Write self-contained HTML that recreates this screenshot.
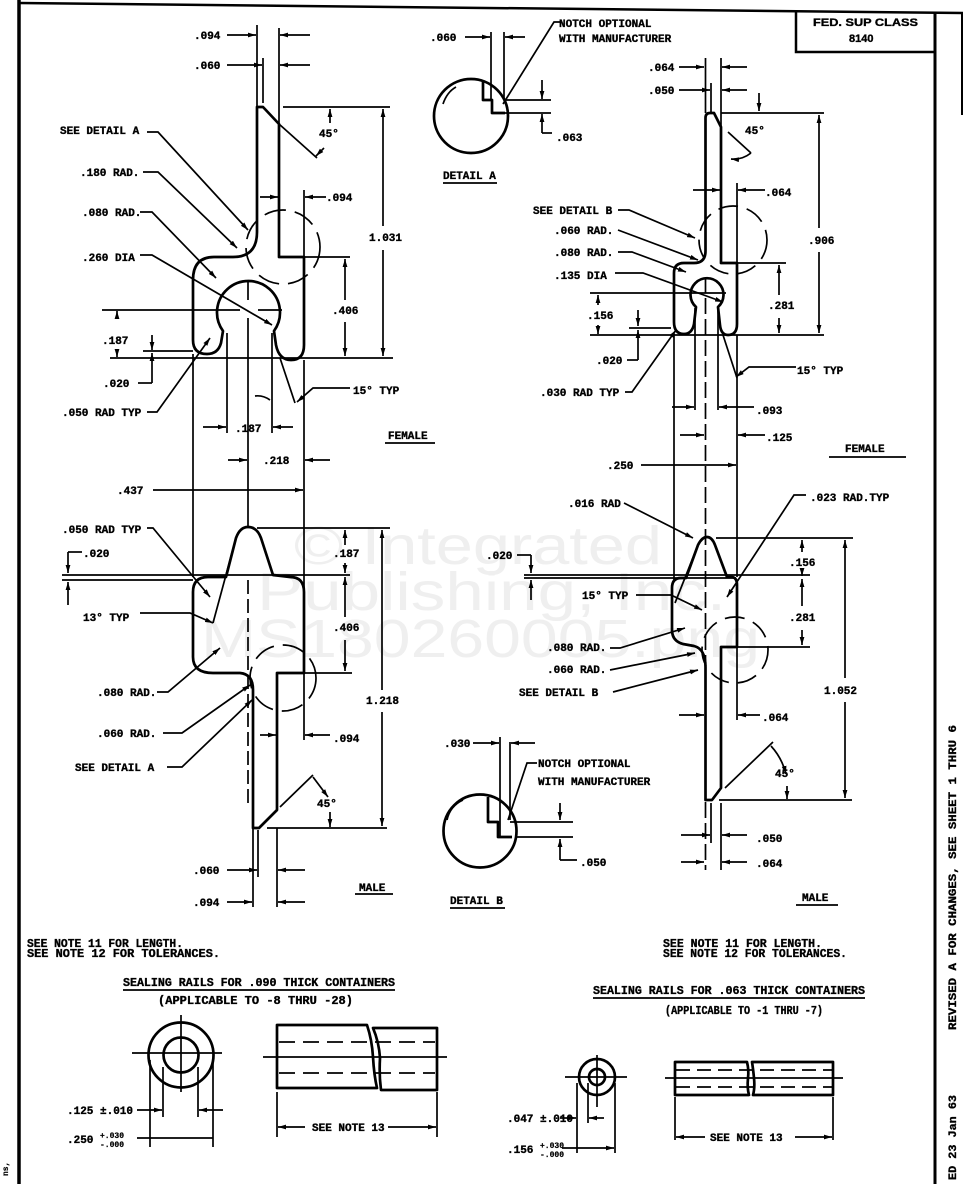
<!DOCTYPE html>
<html><head><meta charset="utf-8">
<style>
html,body{margin:0;padding:0;background:#fff;}
svg{display:block;}
text{font-family:"Liberation Mono",monospace;font-weight:bold;font-size:11px;fill:#000;stroke:#000;stroke-width:0.35;}
.wm{font-family:"Liberation Sans",sans-serif;font-weight:normal;font-size:54px;fill:#efefef;stroke:none;}
.sm{font-size:8px;stroke-width:0.2;}
.bt{font-size:11.5px;}
</style></head><body>
<svg width="966" height="1184" viewBox="0 0 966 1184" xmlns="http://www.w3.org/2000/svg">
<defs>
<marker id="a" viewBox="0 0 10 6" refX="10" refY="3" markerWidth="8" markerHeight="5" markerUnits="userSpaceOnUse" orient="auto"><path d="M0,0 L10,3 L0,6 Z" fill="#000"/></marker>
</defs>
<rect width="966" height="1184" fill="#fff"/>

<!-- watermark -->
<text class="wm" x="294" y="564" textLength="368" lengthAdjust="spacingAndGlyphs">© Integrated</text>
<text class="wm" x="257" y="610" textLength="469" lengthAdjust="spacingAndGlyphs">Publishing, Inc.</text>
<text class="wm" x="201" y="657" textLength="559" lengthAdjust="spacingAndGlyphs">MS180260005.png</text>

<!-- frame -->
<g stroke="#000" fill="none">
<path d="M19,0 V1184" stroke-width="3.5"/>
<path d="M19,3 L963,13" stroke-width="2.5"/>
<path d="M935,12 V1184" stroke-width="3"/>
<path d="M962,13 V115" stroke-width="2"/>
<path d="M796,12 V52 H935" stroke-width="2.5"/>
</g>
<text x="813" y="26" style="font-family:'Liberation Sans',sans-serif;font-size:11px" textLength="105" lengthAdjust="spacingAndGlyphs">FED. SUP CLASS</text>
<text x="849" y="42" style="font-family:'Liberation Sans',sans-serif;font-size:11px">8140</text>

<!-- ============ PART OUTLINES ============ -->
<g stroke="#000" fill="none" stroke-width="2.7" stroke-linejoin="round">
<!-- left female -->
<path d="M193,340 L193,280 Q193,257 214,257 L233,257 Q257,257 257,232 L257,107 L263,107 L279,124 L279,257 L304,257 L304,345 Q304,360 291,360 Q279,360 276,345 L274,331 A31.5,31.5 0 1 0 223,331 L221,343 Q218,354 207,354 Q193,354 193,340 Z"/>
<!-- left male -->
<path d="M193,657 L193,592 Q193,577 208,577 L226,577 L236,538 Q240,527 248,527 Q257,527 261,538 L273,575 L290,577 Q304,577 304,592 L304,673 L277,673 L277,810 L259,828 L253,828 L253,690 Q253,674 240,673 L213,673 Q193,673 193,657 Z"/>
<!-- right female -->
<path d="M674,322 L674,273 Q674,263 684,263 L694,263 Q705.5,263 705.5,251 L705.5,118 Q705.5,113 710,113 L714,113 L721,127 L721,263 L737,263 L737,324 Q737,335 728,335 Q721,335 720,325 L718,307 A16.5,16.5 0 1 0 696,307 L694,324 Q692,334 684,334 Q674,334 674,322 Z"/>
<!-- right male -->
<path d="M672,630 L672,588 Q672,578 681,578 L686,578 L698,545 Q702,537 707,537 Q712,537 715,545 L727,577 L731,577 Q737,577 737,585 L737,647 L721,647 L721,788 L712,800 L705.5,800 L705.5,667 Q705.5,649 694,646 L683,644 Q672,641 672,630 Z"/>
<!-- detail circles -->
<circle cx="471" cy="116" r="37"/>
<circle cx="480" cy="831" r="36.5"/>
<path d="M483,80 V100 H492 V113 H505"/>
<path d="M488,797 V822 H498 V837 H512"/>
<!-- sealing rails -->
<circle cx="181" cy="1055" r="32.5"/>
<circle cx="181" cy="1055" r="17.5"/>
<path d="M277,1025 H367 Q372,1040 373,1057 Q374,1075 377,1088 H277 Z"/>
<path d="M373,1028 Q379,1042 380,1058 Q379,1075 381,1090 H437 V1028 Z"/>
<circle cx="597" cy="1077" r="18"/>
<circle cx="597" cy="1077" r="8"/>
<path d="M675,1062 H747 Q749,1070 748,1078 Q747,1088 749,1095 H675 Z"/>
<path d="M752,1062 H833 V1095 H753 Q755,1088 754,1078 Q753,1068 752,1062 Z"/>
</g>

<!-- ============ DIMENSION / LEADER LINES ============ -->
<g stroke="#000" fill="none" stroke-width="1.7">
<!-- LEFT FEMALE -->
<path d="M257,25 V107 M279,28 V124 M263,58 V103"/>
<path d="M227,35 H256" marker-end="url(#a)"/><path d="M310,35 H280" marker-end="url(#a)"/>
<path d="M227,65 H262" marker-end="url(#a)"/><path d="M310,65 H280" marker-end="url(#a)"/>
<path d="M283,107 H390"/>
<path d="M279,124 L317,158"/>
<path d="M330,123 V109" marker-end="url(#a)"/><path d="M324,148 L316,156" marker-end="url(#a)"/>
<path d="M383,226 V109" marker-end="url(#a)"/><path d="M383,250 V356" marker-end="url(#a)"/>
<path d="M304,190 V257"/>
<path d="M260,197 H278" marker-end="url(#a)"/><path d="M326,197 H305" marker-end="url(#a)"/>
<path d="M304,257 H350"/>
<path d="M345,300 V259" marker-end="url(#a)"/><path d="M345,322 V356" marker-end="url(#a)"/>
<path d="M110,358 H393"/>
<path d="M102,310 H240 M258,310 H282"/>
<path d="M248,280 V300"/>
<path d="M117,318 V311" marker-end="url(#a)"/><path d="M117,349 V357" marker-end="url(#a)"/>
<path d="M143,351 H193"/>
<path d="M152,335 V350" marker-end="url(#a)"/><path d="M152,383 V353" marker-end="url(#a)"/><path d="M138,383 H152"/>
<path d="M147,412 H157 L210,338" marker-end="url(#a)"/>
<path d="M350,388 H313 L297,402" marker-end="url(#a)"/>
<path d="M280,358 L295,403"/>
<path d="M255,396 Q263,395 270,400"/>
<path d="M227,333 V433 M272,333 V433"/>
<path d="M203,427 H226" marker-end="url(#a)"/><path d="M293,427 H273" marker-end="url(#a)"/>
<path d="M248,318 V527"/>
<path d="M228,460 H247" marker-end="url(#a)"/><path d="M330,460 H305" marker-end="url(#a)"/>
<path d="M153,490 H303" marker-end="url(#a)"/>
<path d="M193,354 V577 M304,360 V592"/>
<path d="M147,132 H158 L248,230" marker-end="url(#a)"/>
<path d="M143,172 H158 L237,248" marker-end="url(#a)"/>
<path d="M140,212 H152 L216,278" marker-end="url(#a)"/>
<path d="M140,255 H152 L272,325" marker-end="url(#a)"/>
<circle cx="283" cy="247" r="37" stroke-dasharray="22 9"/>
<path d="M385,443 H435"/>

<!-- LEFT MALE -->
<path d="M236,538 L213,623"/>
<path d="M248,580 V808" stroke-dasharray="14 5"/>
<circle cx="283" cy="678" r="33" stroke-dasharray="22 9"/>
<path d="M257,528 H390 M62,575 H350 M62,580 H193"/>
<path d="M68,552 H82"/>
<path d="M68,552 V573" marker-end="url(#a)"/><path d="M68,605 V582" marker-end="url(#a)"/>
<path d="M345,545 V530" marker-end="url(#a)"/><path d="M345,563 V573" marker-end="url(#a)"/>
<path d="M345,617 V577" marker-end="url(#a)"/><path d="M345,640 V671" marker-end="url(#a)"/>
<path d="M304,673 H352"/>
<path d="M382,690 V530" marker-end="url(#a)"/><path d="M382,712 V826" marker-end="url(#a)"/>
<path d="M267,828 H387"/>
<path d="M304,673 V740"/>
<path d="M260,735 H276" marker-end="url(#a)"/><path d="M330,735 H305" marker-end="url(#a)"/>
<path d="M280,807 L313,775"/>
<path d="M313,777 L328,797" marker-end="url(#a)"/><path d="M330,812 V827" marker-end="url(#a)"/>
<path d="M147,528 H153 L210,597" marker-end="url(#a)"/>
<path d="M140,613 H190 L213,623" marker-end="url(#a)"/>
<path d="M157,692 H168 L220,648" marker-end="url(#a)"/>
<path d="M163,733 H182 L250,685" marker-end="url(#a)"/>
<path d="M167,767 H182 L252,700" marker-end="url(#a)"/>
<path d="M258,830 V877 M253,828 V907 M277,828 V907"/>
<path d="M227,870 H257" marker-end="url(#a)"/><path d="M305,870 H278" marker-end="url(#a)"/>
<path d="M227,902 H252" marker-end="url(#a)"/><path d="M305,902 H278" marker-end="url(#a)"/>
<path d="M355,894 H393"/>

<!-- RIGHT FEMALE -->
<path d="M705.5,58 V113 M721,58 V127 M711,83 V113"/>
<path d="M679,67 H704" marker-end="url(#a)"/><path d="M747,67 H722" marker-end="url(#a)"/>
<path d="M679,90 H710" marker-end="url(#a)"/><path d="M747,90 H722" marker-end="url(#a)"/>
<path d="M721,113 H824"/>
<path d="M728,132 L751,153"/>
<path d="M751,153 Q742,160 731,159" marker-end="url(#a)"/>
<path d="M759,93 V111" marker-end="url(#a)"/>
<path d="M819,228 V115" marker-end="url(#a)"/><path d="M819,252 V333" marker-end="url(#a)"/>
<path d="M737,183 V263"/>
<path d="M693,190 H720" marker-end="url(#a)"/><path d="M765,190 H738" marker-end="url(#a)"/>
<circle cx="733" cy="240" r="34" stroke-dasharray="20 9"/>
<path d="M737,263 H786"/>
<path d="M779,295 V265" marker-end="url(#a)"/><path d="M779,318 V333" marker-end="url(#a)"/>
<path d="M590,335 H824"/>
<path d="M590,293 H726"/>
<path d="M598,305 V295" marker-end="url(#a)"/><path d="M598,325 V334" marker-end="url(#a)"/>
<path d="M629,328 H671"/>
<path d="M638,310 V326" marker-end="url(#a)"/><path d="M638,360 V330" marker-end="url(#a)"/><path d="M627,360 H638"/>
<path d="M625,392 H632 L676,330" marker-end="url(#a)"/>
<path d="M796,367 H749 L736,377" marker-end="url(#a)"/>
<path d="M723,335 L737,378"/>
<path d="M618,210 H629 L695,238" marker-end="url(#a)"/>
<path d="M618,230 L698,260" marker-end="url(#a)"/>
<path d="M618,252 H632 L686,272" marker-end="url(#a)"/>
<path d="M615,273 H643 L723,302" marker-end="url(#a)"/>
<path d="M674,334 V580 M737,335 V577 M695,308 V410 M718,308 V410"/>
<path d="M705.5,277 V870" stroke-dasharray="16 5"/>
<path d="M672,407 H694" marker-end="url(#a)"/><path d="M754,407 H719" marker-end="url(#a)"/>
<path d="M680,435 H704" marker-end="url(#a)"/><path d="M765,435 H738" marker-end="url(#a)"/>
<path d="M829,457 H906"/>

<!-- RIGHT MALE -->
<path d="M698,545 L675,603"/>
<path d="M641,465 H736" marker-end="url(#a)"/>
<path d="M524,575 H810 M524,578 H736"/>
<path d="M517,555 H531"/>
<path d="M531,555 V573" marker-end="url(#a)"/><path d="M531,600 V580" marker-end="url(#a)"/>
<path d="M716,538 H853"/>
<path d="M802,552 V540" marker-end="url(#a)"/><path d="M802,570 V576" marker-end="url(#a)"/>
<path d="M802,606 V579" marker-end="url(#a)"/><path d="M802,630 V645" marker-end="url(#a)"/>
<path d="M721,647 H810"/>
<path d="M845,678 V540" marker-end="url(#a)"/><path d="M845,702 V798" marker-end="url(#a)"/>
<path d="M719,800 H852"/>
<path d="M725,788 L773,742"/>
<path d="M771,746 Q782,758 786,774" marker-end="url(#a)"/><path d="M787,786 V799" marker-end="url(#a)"/>
<path d="M737,647 V720"/>
<path d="M679,715 H704" marker-end="url(#a)"/><path d="M760,715 H738" marker-end="url(#a)"/>
<circle cx="735" cy="650" r="33" stroke-dasharray="20 9"/>
<path d="M624,503 L693,538" marker-end="url(#a)"/>
<path d="M806,495 H794 L727,597" marker-end="url(#a)"/>
<path d="M636,595 H671 L702,610" marker-end="url(#a)"/>
<path d="M610,648 H620 L685,628" marker-end="url(#a)"/>
<path d="M610,670 L695,653" marker-end="url(#a)"/>
<path d="M613,692 L698,670" marker-end="url(#a)"/>
<path d="M711,803 V843 M721,803 V870"/>
<path d="M681,835 H710" marker-end="url(#a)"/><path d="M747,835 H722" marker-end="url(#a)"/>
<path d="M681,862 H704" marker-end="url(#a)"/><path d="M747,862 H722" marker-end="url(#a)"/>
<path d="M796,905 H838"/>

<!-- DETAIL A -->
<path d="M491,32 V100 M504,32 V100"/>
<path d="M465,37 H490" marker-end="url(#a)"/><path d="M525,37 H505" marker-end="url(#a)"/>
<path d="M504,100 H551 M505,113 H551"/>
<path d="M542,80 V99" marker-end="url(#a)"/><path d="M542,133 V114" marker-end="url(#a)"/><path d="M542,133 H552"/>
<path d="M443,104 Q447,92 456,87"/>
<path d="M560,22 H554 L503,104"/>
<path d="M443,183 H497"/>

<!-- DETAIL B -->
<path d="M500,737 V837 M510,742 V820"/>
<path d="M473,743 H499" marker-end="url(#a)"/><path d="M535,743 H511" marker-end="url(#a)"/>
<path d="M510,822 H573 M517,837 H573"/>
<path d="M560,803 V820" marker-end="url(#a)"/><path d="M560,860 V839" marker-end="url(#a)"/><path d="M560,860 H577"/>
<path d="M447,820 Q450,806 463,800"/>
<path d="M537,763 H527 L508,820"/>
<path d="M450,908 H505"/>

<!-- SEALING RAILS LEFT -->
<path d="M132,1053 H222 M181,1015 V1092"/>
<path d="M150,1060 V1147 M213,1060 V1147 M163,1067 V1117 M198,1067 V1117"/>
<path d="M137,1110 H162" marker-end="url(#a)"/><path d="M223,1110 H199" marker-end="url(#a)"/>
<path d="M137,1138 H213"/>
<path d="M263,1057 H447"/>
<path d="M279,1042 H435 M279,1073 H435" stroke-dasharray="16 8"/>
<path d="M277,1092 V1137 M437,1092 V1137"/>
<path d="M305,1127 H278" marker-end="url(#a)"/><path d="M388,1127 H436" marker-end="url(#a)"/>
<path d="M123,990 H395"/>

<!-- SEALING RAILS RIGHT -->
<path d="M565,1077 H627 M597,1055 V1107"/>
<path d="M577,1083 V1153 M615,1083 V1153 M588,1083 V1123"/>
<path d="M560,1118 H576" marker-end="url(#a)"/><path d="M604,1118 H589" marker-end="url(#a)"/>
<path d="M562,1148 H614" marker-end="url(#a)"/>
<path d="M665,1078 H843"/>
<path d="M676,1070 H832 M676,1087 H832" stroke-dasharray="14 7"/>
<path d="M675,1097 V1140 M833,1097 V1140"/>
<path d="M705,1137 H676" marker-end="url(#a)"/><path d="M795,1137 H832" marker-end="url(#a)"/>
<path d="M593,998 H865"/>
</g>

<!-- ============ TEXT ============ -->
<!-- left female -->
<text x="194" y="39">.094</text>
<text x="194" y="69">.060</text>
<text x="60" y="134">SEE DETAIL A</text>
<text x="80" y="176">.180 RAD.</text>
<text x="82" y="216">.080 RAD.</text>
<text x="82" y="261">.260 DIA</text>
<text x="319" y="137">45°</text>
<text x="369" y="241">1.031</text>
<text x="326" y="201">.094</text>
<text x="332" y="314">.406</text>
<text x="102" y="344">.187</text>
<text x="103" y="387">.020</text>
<text x="62" y="416">.050 RAD TYP</text>
<text x="353" y="394">15° TYP</text>
<text x="235" y="432">.187</text>
<text x="263" y="464">.218</text>
<text x="388" y="439">FEMALE</text>
<text x="117" y="494">.437</text>
<!-- left male -->
<text x="62" y="533">.050 RAD TYP</text>
<text x="83" y="557">.020</text>
<text x="83" y="621">13° TYP</text>
<text x="333" y="557">.187</text>
<text x="333" y="631">.406</text>
<text x="366" y="704">1.218</text>
<text x="97" y="696">.080 RAD.</text>
<text x="97" y="737">.060 RAD.</text>
<text x="75" y="771">SEE DETAIL A</text>
<text x="333" y="742">.094</text>
<text x="317" y="807">45°</text>
<text x="193" y="874">.060</text>
<text x="193" y="906">.094</text>
<text x="359" y="891">MALE</text>
<!-- detail A -->
<text x="430" y="41">.060</text>
<text x="559" y="27">NOTCH OPTIONAL</text>
<text x="559" y="42">WITH MANUFACTURER</text>
<text x="556" y="141">.063</text>
<text x="443" y="179">DETAIL A</text>
<!-- right female -->
<text x="648" y="71">.064</text>
<text x="648" y="94">.050</text>
<text x="745" y="134">45°</text>
<text x="808" y="244">.906</text>
<text x="765" y="196">.064</text>
<text x="533" y="214">SEE DETAIL B</text>
<text x="554" y="234">.060 RAD.</text>
<text x="554" y="256">.080 RAD.</text>
<text x="554" y="279">.135 DIA</text>
<text x="768" y="309">.281</text>
<text x="587" y="319">.156</text>
<text x="596" y="364">.020</text>
<text x="540" y="396">.030 RAD TYP</text>
<text x="797" y="374">15° TYP</text>
<text x="756" y="414">.093</text>
<text x="766" y="441">.125</text>
<text x="845" y="452">FEMALE</text>
<!-- right male -->
<text x="607" y="469">.250</text>
<text x="568" y="507">.016 RAD</text>
<text x="810" y="501">.023 RAD.TYP</text>
<text x="486" y="559">.020</text>
<text x="582" y="599">15° TYP</text>
<text x="789" y="566">.156</text>
<text x="789" y="621">.281</text>
<text x="824" y="694">1.052</text>
<text x="547" y="651">.080 RAD.</text>
<text x="547" y="673">.060 RAD.</text>
<text x="519" y="696">SEE DETAIL B</text>
<text x="762" y="721">.064</text>
<text x="775" y="777">45°</text>
<text x="756" y="842">.050</text>
<text x="756" y="867">.064</text>
<text x="802" y="901">MALE</text>
<!-- detail B -->
<text x="444" y="747">.030</text>
<text x="538" y="767">NOTCH OPTIONAL</text>
<text x="538" y="785">WITH MANUFACTURER</text>
<text x="580" y="866">.050</text>
<text x="450" y="904">DETAIL B</text>
<!-- bottom notes -->
<text class="bt" x="27" y="947" textLength="156" lengthAdjust="spacingAndGlyphs">SEE NOTE 11 FOR LENGTH.</text>
<text class="bt" x="27" y="957" textLength="193" lengthAdjust="spacingAndGlyphs">SEE NOTE 12 FOR TOLERANCES.</text>
<text class="bt" x="123" y="986" textLength="272" lengthAdjust="spacingAndGlyphs">SEALING RAILS FOR .090 THICK CONTAINERS</text>
<text class="bt" x="158" y="1004" textLength="195" lengthAdjust="spacingAndGlyphs">(APPLICABLE TO -8 THRU -28)</text>
<text x="67" y="1114">.125 ±.010</text>
<text x="67" y="1143">.250</text>
<text class="sm" x="100" y="1138">+.030</text>
<text class="sm" x="100" y="1147">-.000</text>
<text x="312" y="1131">SEE NOTE 13</text>
<text class="bt" x="663" y="947" textLength="159" lengthAdjust="spacingAndGlyphs">SEE NOTE 11 FOR LENGTH.</text>
<text class="bt" x="663" y="957" textLength="184" lengthAdjust="spacingAndGlyphs">SEE NOTE 12 FOR TOLERANCES.</text>
<text class="bt" x="593" y="994" textLength="272" lengthAdjust="spacingAndGlyphs">SEALING RAILS FOR .063 THICK CONTAINERS</text>
<text class="bt" x="665" y="1014" textLength="158" lengthAdjust="spacingAndGlyphs">(APPLICABLE TO -1 THRU -7)</text>
<text x="507" y="1122">.047 ±.010</text>
<text x="507" y="1153">.156</text>
<text class="sm" x="540" y="1148">+.030</text>
<text class="sm" x="540" y="1157">-.000</text>
<text x="710" y="1141">SEE NOTE 13</text>
<!-- margin text -->
<text transform="translate(956,1030) rotate(-90)" textLength="305" lengthAdjust="spacingAndGlyphs">REVISED  A  FOR CHANGES, SEE SHEET 1 THRU 6</text>
<text transform="translate(956,1180) rotate(-90)" textLength="85" lengthAdjust="spacingAndGlyphs">ED  23 Jan 63</text>
<text class="sm" transform="translate(8,1176) rotate(-90)">ns,</text>
</svg>
</body></html>
